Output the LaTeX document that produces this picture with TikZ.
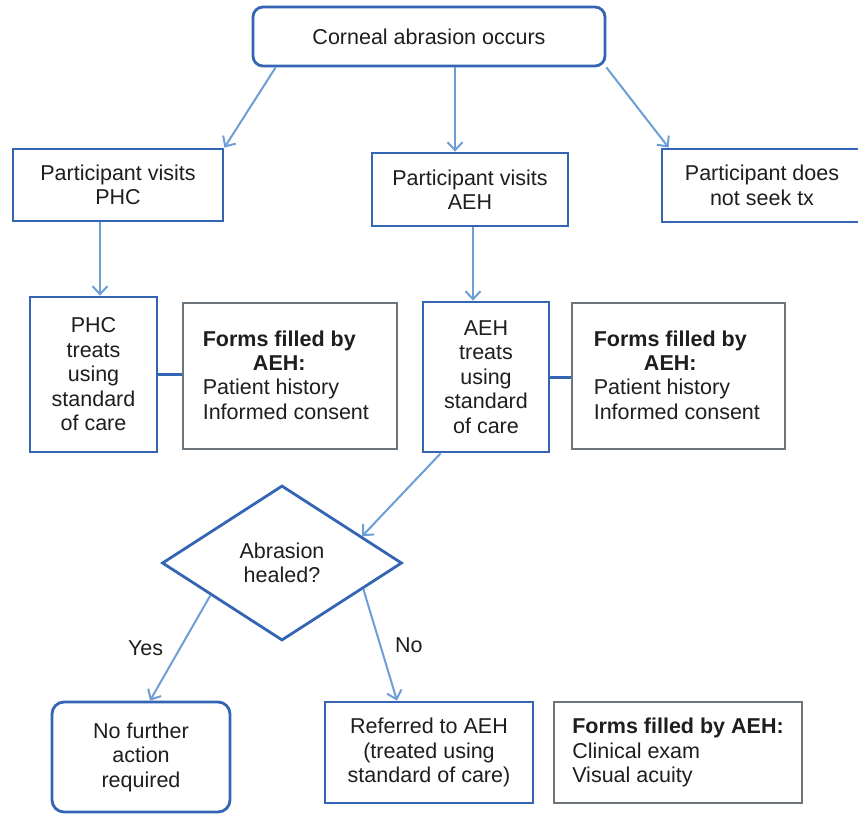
\documentclass[tikz,border=0pt]{standalone}
\usepackage{fontspec}
\setmainfont{Liberation Sans}
\usetikzlibrary{positioning,arrows.meta,shapes.geometric,calc}
\definecolor{cBox}{HTML}{3465B4}
\definecolor{cArrow}{HTML}{6E9ED6}
\definecolor{cForm}{HTML}{6C757B}
\definecolor{cInk}{HTML}{1E1E1E}

\begin{document}
\begin{tikzpicture}[
  x=1pt, y=-1pt,
  font=\fontsize{21.5}{24.5}\selectfont,
  >={Straight Barb[length=8pt,width=15pt]},
  base/.style={draw, inner sep=4pt, line width=2.8pt, text=cInk, fill=white},
  pbox/.style={base, draw=cBox, align=center},
  fbox/.style={base, draw=cForm, align=left},
  dbox/.style={pbox, diamond, inner sep=0pt},
  fhead/.style={inner sep=0pt, align=center, text=cInk, font=\fontsize{21.5}{24.5}\selectfont\bfseries},
  flist/.style={inner sep=0pt, align=left, text=cInk},
  flow/.style={->, draw=cArrow, line width=2pt},
  link/.style={draw=cBox, line width=3pt},
  lbl/.style={inner sep=2pt, text=cInk}]

\path[use as bounding box, fill=white] (0,0) rectangle (858,814);

% ---------- top / first visit ----------
\node[pbox, rounded corners=10pt, minimum width=352pt, minimum height=59pt]
      (occur) at (429,36.5) {Corneal abrasion occurs};
\node[pbox, minimum width=210pt, minimum height=72pt]
      (visPHC) at (118,185) {Participant visits\\PHC};
\node[pbox, minimum width=196pt, minimum height=73pt]
      (visAEH) at (470,189.5) {Participant visits\\AEH};
\node[pbox, minimum width=200pt, minimum height=73pt]
      (notx) at (762,185.5) {Participant does\\not seek tx};

% ---------- treatment + forms ----------
\node[pbox, minimum width=127pt, minimum height=155pt]
      (trPHC) at (93.5,374.5) {PHC\\treats\\using\\standard\\of care};
\node[fbox, minimum width=214pt, minimum height=146pt] (formPHC) at (290,376) {};
\node[fhead, anchor=north west] (headPHC) at ([xshift=21pt,yshift=-29pt]formPHC.north west)
      {Forms filled by\\AEH:};
\node[flist, below=8pt of headPHC.south west, anchor=north west] (listPHC)
      {Patient history\\Informed consent};
\node[pbox, minimum width=126pt, minimum height=150pt]
      (trAEH) at (486,377) {AEH\\treats\\using\\standard\\of care};
\node[fbox, minimum width=213pt, minimum height=146pt] (formAEH) at (678.5,376) {};
\node[fhead, anchor=north west] (headAEH) at ([xshift=23pt,yshift=-29pt]formAEH.north west)
      {Forms filled by\\AEH:};
\node[flist, below=8pt of headAEH.south west, anchor=north west] (listAEH)
      {Patient history\\Informed consent};

% ---------- decision ----------
\node[dbox, minimum width=240pt, minimum height=155pt]
      (healed) at (282,563) {Abrasion\\healed?};
\node[pbox, rounded corners=12pt, minimum width=178pt, minimum height=110pt]
      (noact) at (141,757) {No further\\action\\required};
\node[pbox, minimum width=208pt, minimum height=101pt]
      (refer) at (429,752.5) {Referred to AEH\\(treated using\\standard of care)};
\node[fbox, minimum width=248pt, minimum height=101pt] (formRef) at (678,752.5)
      {\textbf{Forms filled by AEH:}\\Clinical exam\\Visual acuity};

% ---------- edges ----------
\draw[flow] ([xshift=24pt]occur.south west) -- (visPHC.north east);
\draw[flow] ([xshift=-15pt]visAEH.north |- occur.south) -- ([xshift=-15pt]visAEH.north);
\draw[flow] (occur.south east) -- ([xshift=8pt]notx.north west);
\draw[flow] ([xshift=-18pt]visPHC.south) -- ([xshift=-18pt]visPHC.south |- trPHC.north);
\draw[flow] ([xshift=3pt]visAEH.south) -- ([xshift=3pt]visAEH.south |- trAEH.north);
\draw[link] (trPHC.east) -- (trPHC.east -| formPHC.west);
\draw[link] (trAEH.east) -- (trAEH.east -| formAEH.west);
\draw[flow] ([xshift=19pt]trAEH.south west) -- ($(healed.north)!0.66!(healed.east)$);
\draw[flow] ($(healed.west)!0.41!(healed.south)$) --
      node[lbl, midway, left=14pt] (yes) {Yes} ([xshift=9pt]noact.north);
\draw[flow] ($(healed.east)!0.33!(healed.south)$) --
      node[lbl, midway, right=12pt] (no) {No} ([xshift=-32pt]refer.north);
\end{tikzpicture}
\end{document}
